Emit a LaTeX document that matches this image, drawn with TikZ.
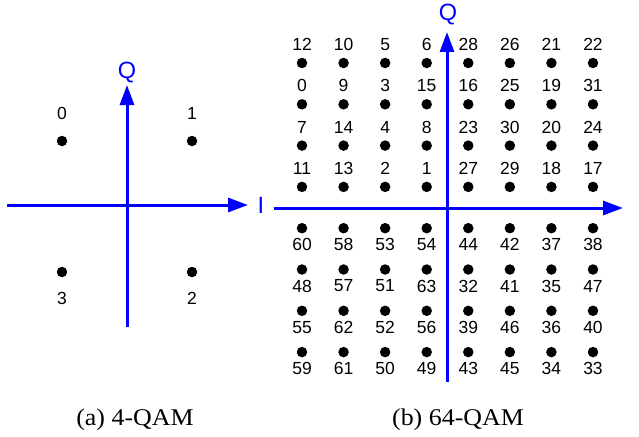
\documentclass[tikz,border=0pt]{standalone}
\usepackage{fontspec}
\setmainfont{Liberation Sans}
\newfontfamily\capfont{Liberation Serif}
\usetikzlibrary{arrows.meta}
\definecolor{axisblue}{RGB}{0,0,255}
\begin{document}
\begin{tikzpicture}[x=1pt,y=-1pt,
  axis/.style={draw=axisblue, line width=3pt, -{Triangle[length=20pt,width=14pt]}},
  dot/.style={circle, fill=black, inner sep=0pt, minimum size=10.5pt},
  lbl/.style={inner sep=0pt, font=\fontsize{17.5}{18}\selectfont},
  axlbl/.style={inner sep=0pt, text=axisblue, font=\fontsize{23.5}{24}\selectfont},
  captext/.style={inner sep=0pt, anchor=base, font=\capfont\fontsize{24}{26}\selectfont, xscale=1.08}]
\useasboundingbox (0,0) rectangle (639,436);
% ---------- (a) 4-QAM ----------
\coordinate (Lw) at (7,205);
\coordinate (Le) at (248,205);
\coordinate (Ls) at (127,327);
\coordinate (Ln) at (127,85);
\draw[axis] (Lw) -- (Le);
\draw[axis] (Ls) -- (Ln);
\node[axlbl] (LQ) at (127,73) {Q};
\node[axlbl] (LI) at (261,205) {I};
\node[dot] (d0) at (62,141) {};
\node[dot] (d1) at (192,141) {};
\node[dot] (d3) at (62,272) {};
\node[dot] (d2) at (192,272) {};
\node[lbl] (l0) at (62,113) {0};
\node[lbl] (l1) at (192,113) {1};
\node[lbl] (l3) at (62,298) {3};
\node[lbl] (l2) at (192,298) {2};
% ---------- (b) 64-QAM ----------
\coordinate (Rw) at (274,208);
\coordinate (Re) at (623,208);
\coordinate (Rs) at (447,382);
\coordinate (Rn) at (447,32);
\draw[axis] (Rw) -- (Re);
\draw[axis] (Rs) -- (Rn);
\node[axlbl] (RQ) at (448,15) {Q};
\foreach \row [count=\j from 0] in {{12,10,5,6,28,26,21,22},{0,9,3,15,16,25,19,31},{7,14,4,8,23,30,20,24},{11,13,2,1,27,29,18,17}}{
  \foreach \v [count=\i from 0] in \row {
    \node[dot] (p\v) at ({302+41.57*\i},{63+41.3*\j}) {};
    \node[lbl] (t\v) at ({302+41.57*\i},{44.5+41.3*\j}) {\v};
  }
}
\foreach \row [count=\j from 4] in {{60,58,53,54,44,42,37,38},{48,57,51,63,32,41,35,47},{55,62,52,56,39,46,36,40},{59,61,50,49,43,45,34,33}}{
  \foreach \v [count=\i from 0] in \row {
    \node[dot] (p\v) at ({302+41.57*\i},{63+41.3*\j}) {};
    \node[lbl] (t\v) at ({302+41.57*\i},{79.5+41.3*\j}) {\v};
  }
}
% ---------- captions ----------
\node[captext] (capa) at (135,425) {(a) 4-QAM};
\node[captext] (capb) at (458,425) {(b) 64-QAM};
\end{tikzpicture}
\end{document}
